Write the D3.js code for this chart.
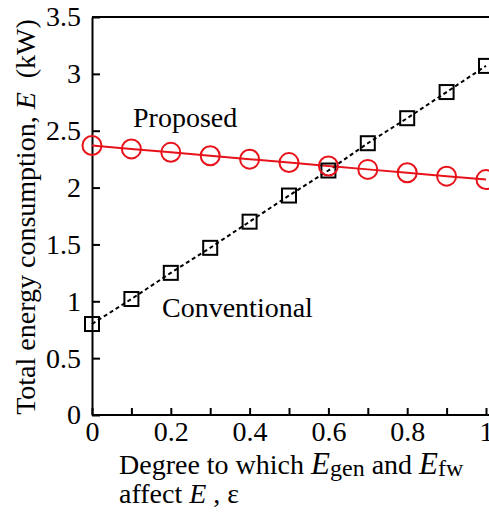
<!DOCTYPE html>
<html>
<head>
<meta charset="utf-8">
<script src="https://cdn.jsdelivr.net/npm/d3@7"></script>
<style>
  body { margin: 0; background: #fff; }
  svg text { font-family: "Liberation Serif", "Times New Roman", Times, serif; fill: #000; }
</style>
</head>
<body>
<div id="chart"></div>
<script>
// Data
const epsilon = [0, 0.1, 0.2, 0.3, 0.4, 0.5, 0.6, 0.7, 0.8, 0.9, 1.0];
const proposed = [2.37, 2.34, 2.31, 2.28, 2.25, 2.22, 2.19, 2.16, 2.13, 2.10, 2.07];
const conventional = [0.80, 1.02, 1.25, 1.47, 1.70, 1.93, 2.15, 2.39, 2.61, 2.84, 3.07];
const xMinorTicks = [0, 0.1, 0.2, 0.3, 0.4, 0.5, 0.6, 0.7, 0.8, 0.9, 1.0];
const xLabelTicks = [0, 0.2, 0.4, 0.6, 0.8, 1.0];
const yTicks = [0, 0.5, 1, 1.5, 2, 2.5, 3, 3.5];

const width = 489, height = 515;
const margin = { top: 17, left: 92, bottom: 100 };
const serif = '"Liberation Serif", "Times New Roman", Times, serif';

const svg = d3.select("#chart")
    .append("svg")
    .attr("width", width)
    .attr("height", height)
    .style("font-family", serif);

// Scales
const x = d3.scaleLinear().domain([0, 1]).range([margin.left, 486]);
const y = d3.scaleLinear().domain([0, 3.5]).range([height - margin.bottom, margin.top]);

const fmt = d => d === 0 ? "0" : d3.format("")(d);

// Top frame line
svg.append("line")
    .attr("x1", x(0)).attr("x2", width)
    .attr("y1", y(3.5)).attr("y2", y(3.5))
    .attr("stroke", "#000").attr("stroke-width", 2);

// Bottom axis - minor ticks pointing inward
const xTicksG = svg.append("g")
    .attr("transform", `translate(0, ${y(0)})`)
    .call(d3.axisBottom(x).tickValues(xMinorTicks).tickSize(-7).tickSizeOuter(0).tickFormat(""));
xTicksG.select(".domain").attr("d", `M${x(0)},0H${width}`);

// Bottom axis labels
const xLab = svg.append("g")
    .attr("transform", `translate(0, ${y(0)})`)
    .call(d3.axisBottom(x).tickValues(xLabelTicks).tickSize(0).tickPadding(6).tickFormat(fmt));
xLab.select(".domain").remove();

// Left axis
svg.append("g")
    .attr("transform", `translate(${x(0)}, 0)`)
    .call(d3.axisLeft(y).tickValues(yTicks).tickSize(-8).tickSizeOuter(0).tickPadding(11).tickFormat(fmt));

svg.selectAll("g").attr("font-family", null);
svg.selectAll(".domain, .tick line")
    .attr("stroke", "#000")
    .attr("stroke-width", 2);
svg.selectAll(".tick text")
    .style("font-family", serif)
    .attr("font-size", 28)
    .attr("fill", "#000");

// Lines
const lineGen = vals => d3.line()
    .x((d, i) => x(epsilon[i]))
    .y(d => y(d))(vals);

svg.append("path")
    .attr("d", lineGen(conventional))
    .attr("fill", "none")
    .attr("stroke", "#000")
    .attr("stroke-width", 2)
    .attr("stroke-dasharray", "4 3");

svg.append("path")
    .attr("d", lineGen(proposed))
    .attr("fill", "none")
    .attr("stroke", "#e8121a")
    .attr("stroke-width", 2);

// Markers
const sq = 14;
svg.selectAll("rect.conv")
    .data(conventional)
    .enter()
    .append("rect")
    .attr("class", "conv")
    .attr("x", (d, i) => x(epsilon[i]) - sq / 2)
    .attr("y", d => y(d) - sq / 2)
    .attr("width", sq)
    .attr("height", sq)
    .attr("fill", "none")
    .attr("stroke", "#000")
    .attr("stroke-width", 2);

svg.selectAll("circle.prop")
    .data(proposed)
    .enter()
    .append("circle")
    .attr("class", "prop")
    .attr("cx", (d, i) => x(epsilon[i]))
    .attr("cy", d => y(d))
    .attr("r", 9.5)
    .attr("fill", "none")
    .attr("stroke", "#e8121a")
    .attr("stroke-width", 2);

// Series labels
svg.append("text")
    .attr("x", 133).attr("y", 127)
    .attr("font-size", 28)
    .text("Proposed");

svg.append("text")
    .attr("x", 162).attr("y", 317)
    .attr("font-size", 28)
    .text("Conventional");

// Y axis title
const yTitle = svg.append("text")
    .attr("transform", `translate(35, ${217}) rotate(-90)`)
    .attr("text-anchor", "middle")
    .attr("font-size", 28);
yTitle.append("tspan").text("Total energy consumption, ");
yTitle.append("tspan").attr("font-style", "italic").text("E");
yTitle.append("tspan").text("\u00a0 (kW)");

// X axis title
const xt1 = svg.append("text")
    .attr("x", 119).attr("y", 474)
    .attr("font-size", 28);
xt1.append("tspan").text("Degree to which ");
xt1.append("tspan").attr("font-style", "italic").attr("font-size", 31).text("E");
xt1.append("tspan").attr("font-size", 24).attr("dy", 2).text("gen");
xt1.append("tspan").attr("dy", -2).text(" and ");
xt1.append("tspan").attr("font-style", "italic").attr("font-size", 31).text("E");
xt1.append("tspan").attr("font-size", 24).attr("dy", 2).text("fw");

const xt2 = svg.append("text")
    .attr("x", 119).attr("y", 503)
    .attr("font-size", 28);
xt2.append("tspan").text("affect ");
xt2.append("tspan").attr("font-style", "italic").text("E");
xt2.append("tspan").text(" ,  \u03b5");
</script>
</body>
</html>
